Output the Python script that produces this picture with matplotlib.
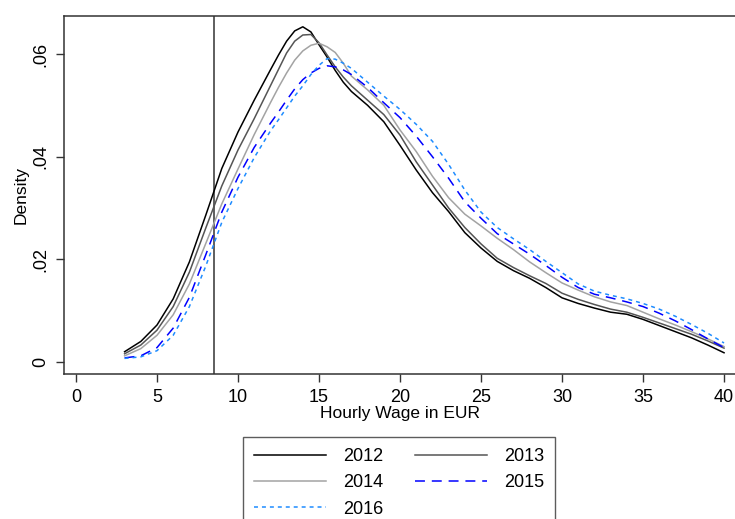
import matplotlib
matplotlib.use("Agg")
import matplotlib.pyplot as plt

plt.rcParams['font.family'] = ['Liberation Sans', 'DejaVu Sans']

wage = [3, 4, 5, 6, 7, 8, 9, 10, 11, 12, 12.5, 13, 13.5, 14, 14.5, 15, 15.5, 16, 16.5, 17,
        18, 19, 20, 21, 22, 23, 24, 25, 26, 27, 28, 29, 30, 31, 32, 33, 34, 35, 36, 37, 38, 39, 40]

d2012 = [0.0020, 0.0040, 0.0072, 0.0123, 0.0195, 0.0285, 0.0377, 0.0448, 0.0510, 0.0569, 0.0598,
         0.0625, 0.0645, 0.0653, 0.0643, 0.0618, 0.0594, 0.0568, 0.0545, 0.0527,
         0.0500, 0.0468, 0.0422, 0.0374, 0.0330, 0.0293, 0.0252, 0.0222, 0.0196, 0.0178, 0.0163,
         0.0145, 0.0125, 0.0114, 0.0105, 0.0097, 0.0093, 0.0083, 0.0071, 0.0059, 0.0047, 0.0033, 0.0018]
d2013 = [0.0016, 0.0033, 0.0062, 0.0108, 0.0175, 0.0260, 0.0343, 0.0413, 0.0474, 0.0538, 0.0570,
         0.0602, 0.0625, 0.0637, 0.0638, 0.0622, 0.0598, 0.0575, 0.0555, 0.0538,
         0.0510, 0.0482, 0.0442, 0.0390, 0.0345, 0.0300, 0.0262, 0.0230, 0.0202, 0.0184, 0.0168,
         0.0153, 0.0134, 0.0122, 0.0112, 0.0103, 0.0097, 0.0087, 0.0076, 0.0065, 0.0054, 0.0041, 0.0027]
d2014 = [0.0012, 0.0026, 0.0052, 0.0092, 0.0152, 0.0230, 0.0308, 0.0376, 0.0443, 0.0505, 0.0535,
         0.0563, 0.0588, 0.0606, 0.0617, 0.0621, 0.0614, 0.0603, 0.0582, 0.0557,
         0.0530, 0.0500, 0.0452, 0.0410, 0.0362, 0.0320, 0.0288, 0.0265, 0.0241, 0.0219, 0.0195,
         0.0174, 0.0154, 0.0140, 0.0127, 0.0117, 0.0110, 0.0097, 0.0084, 0.0072, 0.0059, 0.0045, 0.0030]
d2015 = [0.0008, 0.0012, 0.0028, 0.0066, 0.0126, 0.0208, 0.0292, 0.0360, 0.0418, 0.0465, 0.0487,
         0.0510, 0.0532, 0.0550, 0.0563, 0.0572, 0.0577, 0.0575, 0.0569, 0.0560,
         0.0535, 0.0505, 0.0476, 0.0440, 0.0400, 0.0358, 0.0312, 0.0280, 0.0250, 0.0230, 0.0210,
         0.0188, 0.0165, 0.0145, 0.0132, 0.0125, 0.0117, 0.0108, 0.0095, 0.0080, 0.0063, 0.0045, 0.0028]
d2016 = [0.0007, 0.0010, 0.0022, 0.0052, 0.0108, 0.0186, 0.0272, 0.0338, 0.0398, 0.0450, 0.0472,
         0.0495, 0.0518, 0.0538, 0.0560, 0.0578, 0.0591, 0.0590, 0.0582, 0.0572,
         0.0545, 0.0518, 0.0492, 0.0463, 0.0430, 0.0385, 0.0335, 0.0292, 0.0262, 0.0240, 0.0219,
         0.0196, 0.0174, 0.0152, 0.0138, 0.0130, 0.0123, 0.0114, 0.0103, 0.0089, 0.0073, 0.0056, 0.0037]

years = ["2012", "2013", "2014", "2015", "2016"]
min_wage = 8.5
x_ticks = [0, 5, 10, 15, 20, 25, 30, 35, 40]
y_ticks = [0, 0.02, 0.04, 0.06]
y_ticklabels = ["0", ".02", ".04", ".06"]

fig = plt.figure(figsize=(7.35, 5.19), dpi=100)
ax = fig.add_axes([64 / 735, 145 / 519, 673 / 735, 358.5 / 519])

styles = [
    dict(color="#000000", lw=1.1, ls="-"),
    dict(color="#555555", lw=1.1, ls="-"),
    dict(color="#a3a3a3", lw=1.1, ls="-"),
    dict(color="#0000ff", lw=1.1, dashes=(6.5, 4.5)),
    dict(color="#1e8cff", lw=1.1, dashes=(2.6, 2.6)),
]
series = [d2012, d2013, d2014, d2015, d2016]
handles = []
for yr, vals, st in zip(years, series, styles):
    h, = ax.plot(wage, vals, label=yr, **st)
    handles.append(h)

ax.axvline(min_wage, color="#333333", lw=1.1, zorder=0)

ax.set_xlim(-0.74, 40.8)
ax.set_ylim(-0.00234, 0.0675)
ax.set_xticks(x_ticks)
ax.set_xticklabels([str(t) for t in x_ticks])
ax.set_yticks(y_ticks)
ax.set_yticklabels(y_ticklabels, rotation=90, va="center")
ax.tick_params(direction="out", length=5.5, width=1.0, color="#333333",
               labelsize=13, pad=5)
for s in ax.spines.values():
    s.set_color("#333333")
    s.set_linewidth(1.1)

ax.set_xlabel("Hourly Wage in EUR", fontsize=12.5, labelpad=0.5)
ax.set_ylabel("Density", fontsize=12.5, labelpad=3)

# row-wise order for a 2-column legend
order = [0, 2, 4, 1, 3]
leg = fig.legend([handles[i] for i in order], [years[i] for i in order],
                 loc="upper center", bbox_to_anchor=(399 / 735, 82 / 519), ncol=2,
                 fontsize=13, frameon=True, fancybox=False, handlelength=4.0,
                 handletextpad=0.95, columnspacing=1.75, labelspacing=0.52,
                 borderpad=0.6, borderaxespad=0.0)
leg.get_frame().set_edgecolor("#333333")
leg.get_frame().set_linewidth(1.0)

fig.savefig("out.png", dpi=100)
